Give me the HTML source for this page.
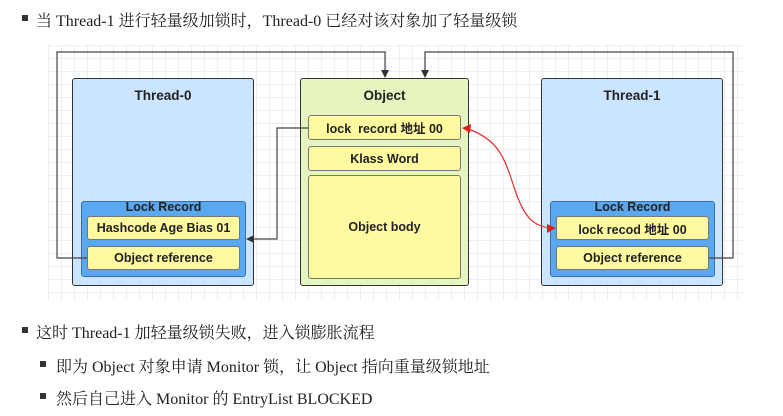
<!DOCTYPE html>
<html><head><meta charset="utf-8"><style>
body{margin:0;width:783px;height:416px;background:#fff;position:relative;overflow:hidden;font-family:"Liberation Sans","Noto Sans CJK SC",sans-serif}
.t{position:absolute;font-family:"Liberation Serif","Noto Serif CJK SC",serif;font-size:16px;color:#222;white-space:nowrap}
.b{position:absolute;width:6px;height:6px;background:#333}
.box{position:absolute;border:1.5px solid #333;border-radius:3px;box-sizing:border-box}
.y{position:absolute;background:#fff9a0;border:1px solid #777;border-radius:3px;box-sizing:border-box;font-weight:bold;font-size:12.5px;color:#222;display:flex;align-items:center;justify-content:center}
.h{position:absolute;font-weight:bold;font-size:13.5px;color:#222;text-align:center}
</style></head><body>
<div style="position:absolute;left:48px;top:45px;width:697px;height:255px;background-color:#fff;background-image:linear-gradient(#eee 1px,transparent 1px),linear-gradient(90deg,#eee 1px,transparent 1px);background-size:13px 13px"></div>
<div class="b" style="left:22px;top:15px"></div><div class="t" style="left:36px;top:8px">当 Thread-1 进行轻量级加锁时，Thread-0 已经对该对象加了轻量级锁</div>

<div class="box" style="left:72px;top:78px;width:182px;height:208px;background:#cce5ff"></div>
<div class="h" style="left:72px;top:88px;width:182px">Thread-0</div>
<div class="box" style="left:81px;top:201px;width:165px;height:76px;background:#5aa9f0;border-width:1px;border-color:#3a70b0"></div>
<div class="h" style="left:81px;top:200px;width:165px;font-size:12.5px">Lock Record</div>
<div class="y" style="left:87px;top:216px;width:153px;height:24px">Hashcode Age Bias 01</div>
<div class="y" style="left:87px;top:246px;width:153px;height:24px">Object reference</div>

<div class="box" style="left:300px;top:78px;width:169px;height:208px;background:#e6f5c0"></div>
<div class="h" style="left:300px;top:88px;width:169px">Object</div>
<div class="y" style="left:308px;top:115px;width:153px;height:25px">lock&nbsp; record 地址 00</div>
<div class="y" style="left:308px;top:146px;width:153px;height:25px">Klass Word</div>
<div class="y" style="left:308px;top:175px;width:153px;height:104px">Object body</div>

<div class="box" style="left:541px;top:78px;width:182px;height:208px;background:#cce5ff"></div>
<div class="h" style="left:541px;top:88px;width:182px">Thread-1</div>
<div class="box" style="left:550px;top:201px;width:165px;height:76px;background:#5aa9f0;border-width:1px;border-color:#3a70b0"></div>
<div class="h" style="left:550px;top:200px;width:165px;font-size:12.5px">Lock Record</div>
<div class="y" style="left:556px;top:216px;width:153px;height:24px">lock recod 地址 00</div>
<div class="y" style="left:556px;top:246px;width:153px;height:24px">Object reference</div>

<svg width="783" height="416" style="position:absolute;left:0;top:0">
<g fill="none" stroke="#444" stroke-width="1.2">
<polyline points="87,258 57,258 57,52 385,52 385,72"/>
<polyline points="709,258 733,258 733,52 425,52 425,72"/>
<polyline points="308,128 277,128 277,239 252,239"/>
</g>
<g fill="#333"><polygon points="381,70 389,70 385,78"/><polygon points="421,70 429,70 425,78"/><polygon points="246,239 254,235 254,243"/></g>
<path d="M468,129 C500,140 505,160 515,190 C525,220 535,226 550,228" fill="none" stroke="#e03030" stroke-width="1.2"/>
<polygon points="462,128 471,124 470,133" fill="#e02020"/><polygon points="556,228 547,224 547,233" fill="#e02020"/>
</svg>

<div class="b" style="left:22px;top:327px"></div><div class="t" style="left:36px;top:320px">这时 Thread-1 加轻量级锁失败，进入锁膨胀流程</div>
<div class="b" style="left:40px;top:361px"></div><div class="t" style="left:56px;top:354px">即为 Object 对象申请 Monitor 锁，让 Object 指向重量级锁地址</div>
<div class="b" style="left:40px;top:393px"></div><div class="t" style="left:56px;top:386px">然后自己进入 Monitor 的 EntryList BLOCKED</div>
</body></html>
